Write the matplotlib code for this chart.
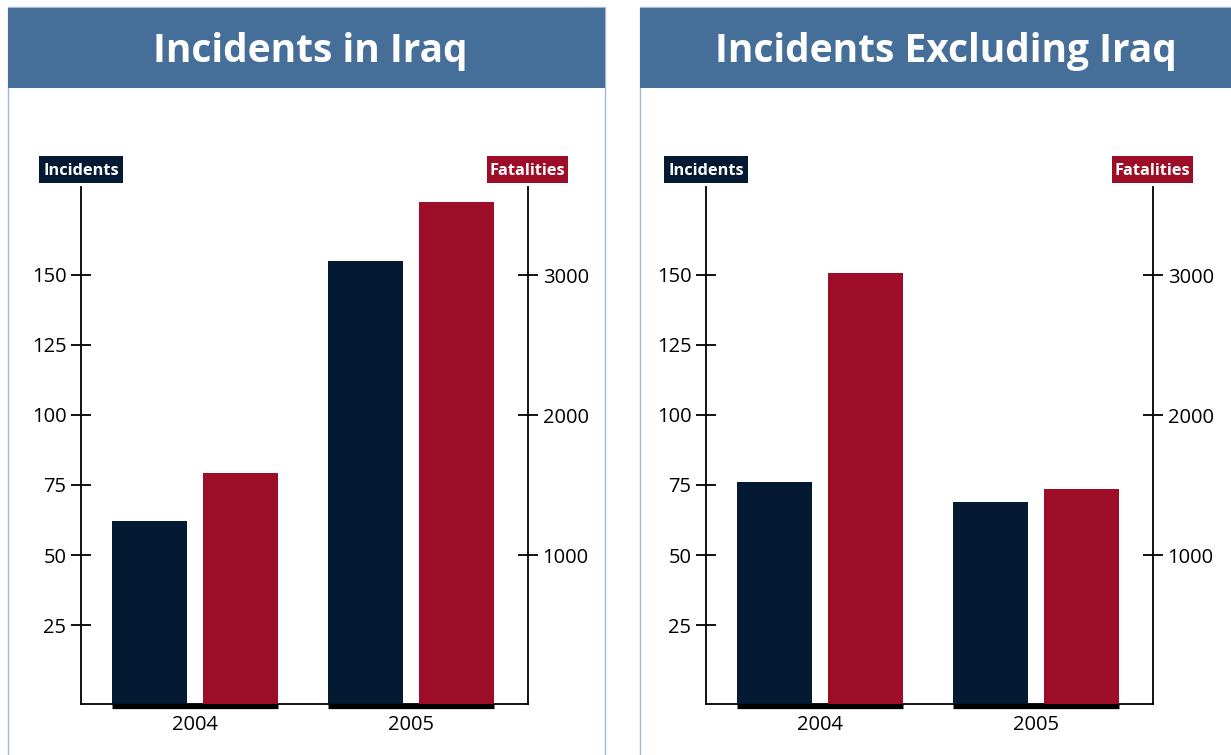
import matplotlib
matplotlib.use("Agg")
import matplotlib.pyplot as plt
from matplotlib.patches import Rectangle

plt.rcParams['font.family'] = ['Open Sans', 'DejaVu Sans']

# data
years = ['2004', '2005']
iraq_incidents = [62, 155]
iraq_fatalities = [1583, 3524]
excl_incidents = [76, 69]
excl_fatalities = [3012, 1469]

inc_ticks = [25, 50, 75, 100, 125, 150]
fat_ticks = [1000, 2000, 3000]

titles = ['Incidents in Iraq', 'Incidents Excluding Iraq']

navy = '#041a33'
red = '#9e0d28'
header = '#456f99'
border = '#a3bad6'

W, H = 1231, 755
fig = plt.figure(figsize=(W / 100, H / 100), dpi=100)
fig.patch.set_facecolor('white')


def fx(x):
    return x / W


def fy(y):
    return 1 - y / H


def box(x0, y0, x1, y1, **kw):
    r = Rectangle((fx(x0), fy(y1)), fx(x1) - fx(x0), fy(y0) - fy(y1),
                  transform=fig.transFigure, **kw)
    fig.add_artist(r)
    return r


panels = [
    dict(left=8, right=605, axl=81, title_x=310, inc=iraq_incidents, fat=iraq_fatalities),
    dict(left=640, right=1237, axl=706, title_x=946, inc=excl_incidents, fat=excl_fatalities),
]

# axis limits: zero sits a little above the baseline
inc_lim = (-3.2, 181.4)
fat_lim = (-64, 3629)
x = [0, 1]
bw = 0.347
off = 0.21

for p, title in zip(panels, titles):
    # panel frame + header band
    box(p['left'], 7, p['right'], 770, facecolor='white', edgecolor=border, lw=1.0, zorder=0)
    box(p['left'], 8, p['right'], 88, facecolor=header, edgecolor='none', zorder=1)
    fig.text(fx(p['title_x']), fy(62), title, color='white', fontsize=28,
             fontweight='bold', ha='center', va='baseline', zorder=2)

    axl = p['axl']
    ax = fig.add_axes([fx(axl), fy(704), 447 / W, 517 / H])
    ax.patch.set_alpha(0)
    ax2 = ax.twinx()

    ax.bar([i - off for i in x], [v - inc_lim[0] for v in p['inc']], bw,
           bottom=inc_lim[0], color=navy, zorder=3)
    ax2.bar([i + off for i in x], [v - fat_lim[0] for v in p['fat']], bw,
            bottom=fat_lim[0], color=red, zorder=3)

    ax.set_xlim(-0.528, 1.542)
    ax.set_ylim(*inc_lim)
    ax2.set_ylim(*fat_lim)

    # black strip under each year group
    for i in x:
        ax.plot([i - off - bw / 2, i + off + bw / 2], [-3.9, -3.9], color='black',
                lw=3.8, solid_capstyle='butt', clip_on=False, zorder=4)

    ax.set_yticks(inc_ticks)
    ax.set_yticklabels([str(t) for t in inc_ticks])
    ax2.set_yticks(fat_ticks)
    ax2.set_yticklabels([str(t) for t in fat_ticks])
    ax.set_xticks(x)
    ax.set_xticklabels(years)

    for a in (ax, ax2):
        a.spines['top'].set_visible(False)
        for s in ('left', 'right', 'bottom'):
            a.spines[s].set_linewidth(1.3)
        a.tick_params(axis='y', direction='inout', length=15, width=1.3,
                      labelsize=14.5, pad=3)
    ax.spines['right'].set_visible(False)
    ax2.spines['left'].set_visible(False)
    ax2.spines['bottom'].set_visible(False)
    ax.tick_params(axis='x', length=0, labelsize=14.5, pad=8)

    # axis name tags
    axr = axl + 447
    box(axl - 42, 156, axl + 42, 183, facecolor=navy, edgecolor='none', zorder=2)
    fig.text(fx(axl), fy(175), 'Incidents', color='white', fontsize=11.8,
             fontweight='bold', ha='center', va='baseline', zorder=3)
    box(axr - 41, 156, axr + 40, 183, facecolor=red, edgecolor='none', zorder=2)
    fig.text(fx(axr - 0.5), fy(175), 'Fatalities', color='white', fontsize=11.8,
             fontweight='bold', ha='center', va='baseline', zorder=3)

fig.savefig('out.png', dpi=100)
